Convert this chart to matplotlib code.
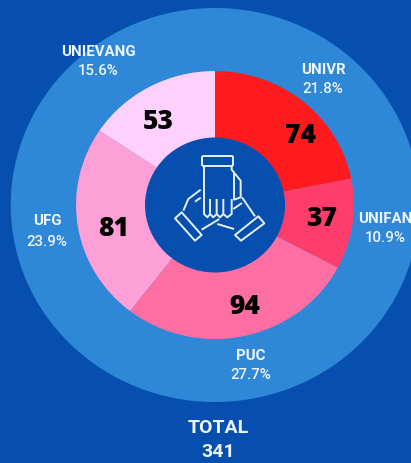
import matplotlib
matplotlib.use('Agg')
import matplotlib.pyplot as plt
from matplotlib.patches import Circle, Polygon, FancyBboxPatch

# Dados
nomes = ['UNIVR', 'UNIFAN', 'PUC', 'UFG', 'UNIEVANG']
valores = [74, 37, 94, 81, 53]
percentuais = ['21.8%', '10.9%', '27.7%', '23.9%', '15.6%']
total = 341
cores = ['#fe1a1d', '#fe3d6c', '#fd6fa3', '#fda0d8', '#fed0fd']

fundo = '#064fae'
anel = '#2f87d8'

W, H = 411, 464
cx, cy = 215, 206
esticar = 1.037  # o original esta levemente esticado na horizontal

plt.rcParams['font.family'] = ['Roboto', 'DejaVu Sans']

fig = plt.figure(figsize=(W / 100, H / 100), dpi=100, facecolor=fundo)
ax = fig.add_axes([0, 0, 1, 1])

ax.pie(valores, colors=cores, startangle=90, counterclock=False, radius=134,
       wedgeprops={'width': 134, 'linewidth': 0})
ax.set_aspect('auto')
ax.set_xlim(-cx / esticar, (W - cx) / esticar)
ax.set_ylim(-(H - cy), cy)
ax.add_patch(Circle((0, 0), 197, color=anel, lw=0, zorder=0))
ax.add_patch(Circle((0, 0), 67.5, color=fundo, lw=0, zorder=5))

# camada em pixels para textos e icone
top = fig.add_axes([0, 0, 1, 1], facecolor='none')
top.set_xlim(0, W)
top.set_ylim(H, 0)
top.axis('off')

pos_nome = [(323, 70), (385, 219), (251, 356), (47, 221), (98, 52)]
pos_pct = [(323, 89), (385, 238), (251, 375), (47, 242), (98, 71)]
pos_valor = [(300, 136), (322, 219), (245, 307), (114, 229), (158, 122)]

for i in range(len(nomes)):
    top.text(*pos_nome[i], nomes[i], color='#eef5fc', fontsize=10.8, fontweight='bold',
             ha='center', va='center')
    top.text(*pos_pct[i], percentuais[i], color='#eef5fc', fontsize=10.8, fontweight='medium',
             ha='center', va='center')
    top.text(*pos_valor[i], str(valores[i]), color='black', fontsize=19, fontweight='black',
             family=['Open Sans', 'DejaVu Sans'], ha='center', va='center')

top.text(218, 428, 'TOTAL', color='#eef5fc', fontsize=14, fontweight='bold', ha='center', va='center')
top.text(218, 452, str(total), color='#eef5fc', fontsize=14, fontweight='bold', ha='center', va='center')


# icone das maos
def z(pts):
    return [(130 + x / 3, 130 + y / 3) for x, y in pts]


def traco(pts, fechado=False):
    top.add_patch(Polygon(z(pts), closed=fechado, fill=False, ec='#e6f0fa', lw=1.4, joinstyle='round'))


top.add_patch(FancyBboxPatch((202, 157), 31, 10, boxstyle='round,pad=0,rounding_size=1.5',
                             fill=False, ec='#e6f0fa', lw=1.4))
traco([(222, 112), (222, 255), (232, 265), (240, 255), (240, 210)])
traco([(240, 255), (250, 265), (260, 255), (260, 210)])
traco([(260, 255), (270, 265), (280, 255), (280, 210)])
traco([(280, 255), (292, 265), (305, 255), (305, 210)])
traco([(305, 112), (305, 122), (332, 155), (332, 205), (312, 212), (312, 130)])
# mao esquerda
traco([(135, 268), (155, 250), (215, 318), (195, 335)], True)
traco([(160, 245), (175, 210), (212, 182)])
traco([(195, 218), (212, 206)])
traco([(215, 302), (268, 270)])
# mao direita
traco([(315, 318), (385, 262), (403, 283), (333, 335)], True)
traco([(336, 205), (375, 262)])
traco([(312, 300), (262, 285)])
traco([(310, 240), (336, 222)])

fig.savefig('out.png', dpi=100, facecolor=fundo)
